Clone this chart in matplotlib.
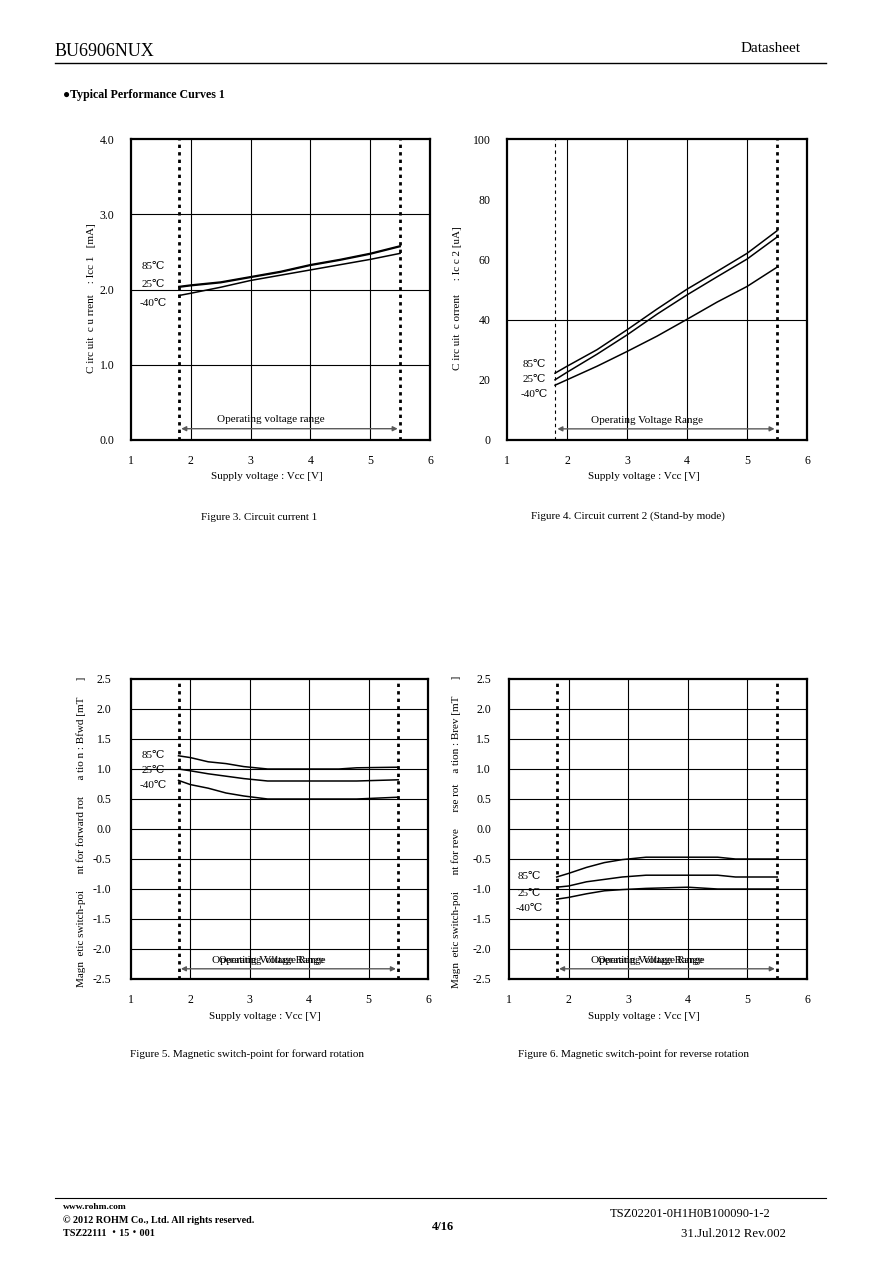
import numpy as np
import matplotlib
matplotlib.use('Agg')
import matplotlib.pyplot as plt
from matplotlib.lines import Line2D

plt.rcParams['font.family'] = ['Liberation Serif', 'DejaVu Serif']

W, H = 892, 1263
FS = 8

temps = ['85℃', '25℃', '-40℃']

# Figure 3 - circuit current 1 [mA]
vcc = [1.8, 2.0, 2.5, 3.0, 3.5, 4.0, 4.5, 5.0, 5.5]
icc1_85 = [2.04, 2.06, 2.10, 2.17, 2.24, 2.33, 2.40, 2.48, 2.58]
icc1_25 = [2.03, 2.05, 2.09, 2.16, 2.23, 2.32, 2.39, 2.47, 2.57]
icc1_m40 = [1.92, 1.95, 2.03, 2.12, 2.19, 2.26, 2.33, 2.40, 2.48]

# Figure 4 - circuit current 2 (stand-by) [uA]
icc2_85 = [22.2, 24.5, 30.0, 36.6, 43.5, 50.1, 56.0, 62.0, 69.5]
icc2_25 = [20.0, 22.5, 28.5, 34.9, 41.8, 48.2, 54.2, 60.1, 67.4]
icc2_m40 = [18.2, 20.0, 24.5, 29.4, 34.5, 40.1, 45.8, 51.0, 57.4]

# Figure 5 - switch point forward [mT]
vcc_b = [1.8, 2.0, 2.3, 2.6, 2.9, 3.3, 4.0, 4.5, 4.8, 5.5]
bfwd_85 = [1.22, 1.19, 1.12, 1.09, 1.04, 1.00, 1.00, 1.00, 1.02, 1.03]
bfwd_25 = [1.00, 0.97, 0.92, 0.88, 0.84, 0.80, 0.80, 0.80, 0.80, 0.82]
bfwd_m40 = [0.81, 0.74, 0.68, 0.60, 0.55, 0.50, 0.50, 0.50, 0.50, 0.53]

# Figure 6 - switch point reverse [mT]
brev_85 = [-0.80, -0.74, -0.64, -0.56, -0.51, -0.47, -0.47, -0.47, -0.50, -0.50]
brev_25 = [-0.97, -0.95, -0.88, -0.84, -0.80, -0.77, -0.77, -0.77, -0.80, -0.80]
brev_m40 = [-1.17, -1.14, -1.08, -1.03, -1.01, -0.99, -0.97, -1.00, -1.00, -1.00]

fig = plt.figure(figsize=(W / 100, H / 100), dpi=100)


def px_axes(x0, y0, x1, y1):
    return fig.add_axes([x0 / W, 1 - y1 / H, (x1 - x0) / W, (y1 - y0) / H])


def setup(ax, ylim, yticks, yfmt, hgrid, ypad):
    ax.set_xlim(1, 6)
    ax.set_ylim(*ylim)
    ax.set_xticks([1, 2, 3, 4, 5, 6])
    ax.set_yticks(yticks)
    ax.set_yticklabels([yfmt.format(v) for v in yticks])
    ax.tick_params(length=0, labelsize=8.5)
    ax.tick_params(axis='x', pad=11)
    ax.tick_params(axis='y', pad=ypad)
    for s in ax.spines.values():
        s.set_linewidth(1.6)
    for gx in [2, 3, 4, 5]:
        ax.axvline(gx, color='black', lw=0.8, zorder=1)
    for gy in hgrid:
        ax.axhline(gy, color='black', lw=0.8, zorder=1)


def range_marks(ax, left_thin=False):
    if left_thin:
        ax.axvline(1.8, color='black', lw=0.8, ls=(0, (3, 3)), zorder=2)
    else:
        ax.axvline(1.8, color='black', lw=2.0, ls=(0, (1.2, 1.5)), zorder=2)
    ax.axvline(5.5, color='black', lw=2.0, ls=(0, (1.2, 1.5)), zorder=2)


def op_arrow(ax, y_arrow, y_text, label, xt=3.33):
    ax.annotate('', xy=(5.46, y_arrow), xytext=(1.84, y_arrow),
                arrowprops=dict(arrowstyle='<|-|>', color='0.35', lw=1.0,
                                mutation_scale=7, shrinkA=0, shrinkB=0), zorder=3)
    ax.text(xt, y_text, label, ha='center', va='center', fontsize=FS, zorder=3)


def ylabel(x_px, y_px, text):
    fig.text(x_px / W, 1 - y_px / H, text, rotation=90, ha='center', va='center', fontsize=FS)


# ---- Figure 3
ax3 = px_axes(131, 139, 430, 440)
setup(ax3, (0, 4), [0, 1, 2, 3, 4], '{:.1f}', [1, 2, 3], 12)
range_marks(ax3)
for ys in [icc1_85, icc1_25, icc1_m40]:
    ax3.plot(vcc, ys, color='black', lw=1.1, zorder=4)
for t, ty in zip(temps, [2.30, 2.06, 1.82]):
    ax3.text(1.37, ty, t, ha='center', va='center', fontsize=FS)
op_arrow(ax3, 0.15, 0.27, 'Operating voltage range')
ax3.text(0.453, -0.122, 'Supply voltage : Vcc [V]', transform=ax3.transAxes,
         ha='center', va='center', fontsize=FS)
ylabel(92, 298, 'C irc uit  c u rrent    : Icc 1   [mA]')
fig.text(259 / W, 1 - 517 / H, 'Figure 3. Circuit current 1', ha='center', va='center', fontsize=FS)

# ---- Figure 4
ax4 = px_axes(507, 139, 807, 440)
setup(ax4, (0, 100), [0, 20, 40, 60, 80, 100], '{:d}', [40], 12)
range_marks(ax4, left_thin=True)
for ys in [icc2_85, icc2_25, icc2_m40]:
    ax4.plot(vcc, ys, color='black', lw=1.1, zorder=4)
for t, ty in zip(temps, [25.0, 20.0, 15.0]):
    ax4.text(1.45, ty, t, ha='center', va='center', fontsize=FS)
op_arrow(ax4, 3.7, 6.5, 'Operating Voltage Range')
ax4.text(0.457, -0.122, 'Supply voltage : Vcc [V]', transform=ax4.transAxes,
         ha='center', va='center', fontsize=FS)
ylabel(457, 298, 'C irc uit  c orrent     : Ic c 2 [uA]')
fig.text(628 / W, 1 - 516 / H, 'Figure 4. Circuit current 2 (Stand-by mode)', ha='center', va='center', fontsize=FS)

# ---- Figure 5
btick = [-2.5, -2.0, -1.5, -1.0, -0.5, 0.0, 0.5, 1.0, 1.5, 2.0, 2.5]
bgrid = [-2.0, -1.5, -1.0, -0.5, 0.0, 0.5, 1.0, 1.5, 2.0]
ax5 = px_axes(131, 679, 428, 979)
setup(ax5, (-2.5, 2.5), btick, '{:.1f}', bgrid, 14)
range_marks(ax5)
for ys in [bfwd_85, bfwd_25, bfwd_m40]:
    ax5.plot(vcc_b, ys, color='black', lw=1.1, zorder=4)
for t, ty in zip(temps, [1.22, 0.97, 0.72]):
    ax5.text(1.38, ty, t, ha='center', va='center', fontsize=FS)
op_arrow(ax5, -2.33, -2.2, 'Operating Voltage Range', xt=3.30)
ax5.text(3.37, -2.2, 'Operating Voltage Range', ha='center', va='center', fontsize=FS - 0.4, zorder=3)
ax5.text(0.452, -0.125, 'Supply voltage : Vcc [V]', transform=ax5.transAxes,
         ha='center', va='center', fontsize=FS)
ylabel(81, 832, 'Magn  etic switch-poi      nt for forward rot      a tio n : Bfwd [mT      ]')
fig.text(247 / W, 1 - 1054 / H, 'Figure 5. Magnetic switch-point for forward rotation',
         ha='center', va='center', fontsize=FS)

# ---- Figure 6
ax6 = px_axes(509, 679, 807, 979)
setup(ax6, (-2.5, 2.5), btick, '{:.1f}', bgrid, 13)
range_marks(ax6)
for ys in [brev_85, brev_25, brev_m40]:
    ax6.plot(vcc_b, ys, color='black', lw=1.1, zorder=4)
for t, ty in zip(temps, [-0.80, -1.07, -1.32]):
    ax6.text(1.34, ty, t, ha='center', va='center', fontsize=FS)
op_arrow(ax6, -2.33, -2.2, 'Operating Voltage Range', xt=3.32)
ax6.text(3.39, -2.2, 'Operating Voltage Range', ha='center', va='center', fontsize=FS - 0.4, zorder=3)
ax6.text(0.453, -0.125, 'Supply voltage : Vcc [V]', transform=ax6.transAxes,
         ha='center', va='center', fontsize=FS)
ylabel(456, 832, 'Magn  etic switch-poi      nt for reve      rse rot    a tion : Brev [mT      ]')
fig.text(633 / W, 1 - 1054 / H, 'Figure 6. Magnetic switch-point for reverse rotation',
         ha='center', va='center', fontsize=FS)

# ---- page header / footer
fig.text(55 / W, 1 - 52 / H, 'BU6906NUX', ha='left', va='center', fontsize=13)
fig.text(801 / W, 1 - 49 / H, 'Datasheet', ha='right', va='center', fontsize=11)
fig.add_artist(Line2D([55 / W, 826 / W], [1 - 63 / H, 1 - 63 / H], color='black', lw=1.0))
fig.text(63 / W, 1 - 95 / H, '●Typical Performance Curves 1', ha='left', va='center',
         fontsize=8.6, fontweight='bold')

fig.add_artist(Line2D([55 / W, 826 / W], [1 - 1198 / H, 1 - 1198 / H], color='black', lw=0.8))
fig.text(63 / W, 1 - 1207 / H, 'www.rohm.com', ha='left', va='center', fontsize=6.8, fontweight='bold')
fig.text(63 / W, 1 - 1220 / H, '© 2012 ROHM Co., Ltd. All rights reserved.', ha='left', va='center',
         fontsize=7.3, fontweight='bold')
fig.text(63 / W, 1 - 1234 / H, 'TSZ22111 ・15・001', ha='left', va='center', fontsize=7.3,
         fontweight='bold', family=['Liberation Serif', 'Noto Sans CJK JP'])
fig.text(443 / W, 1 - 1227 / H, '4/16', ha='center', va='center', fontsize=9, fontweight='bold')
fig.text(770 / W, 1 - 1214 / H, 'TSZ02201-0H1H0B100090-1-2', ha='right', va='center', fontsize=9)
fig.text(786 / W, 1 - 1234 / H, '31.Jul.2012 Rev.002', ha='right', va='center', fontsize=9.2)

fig.savefig('out.png', dpi=100)
